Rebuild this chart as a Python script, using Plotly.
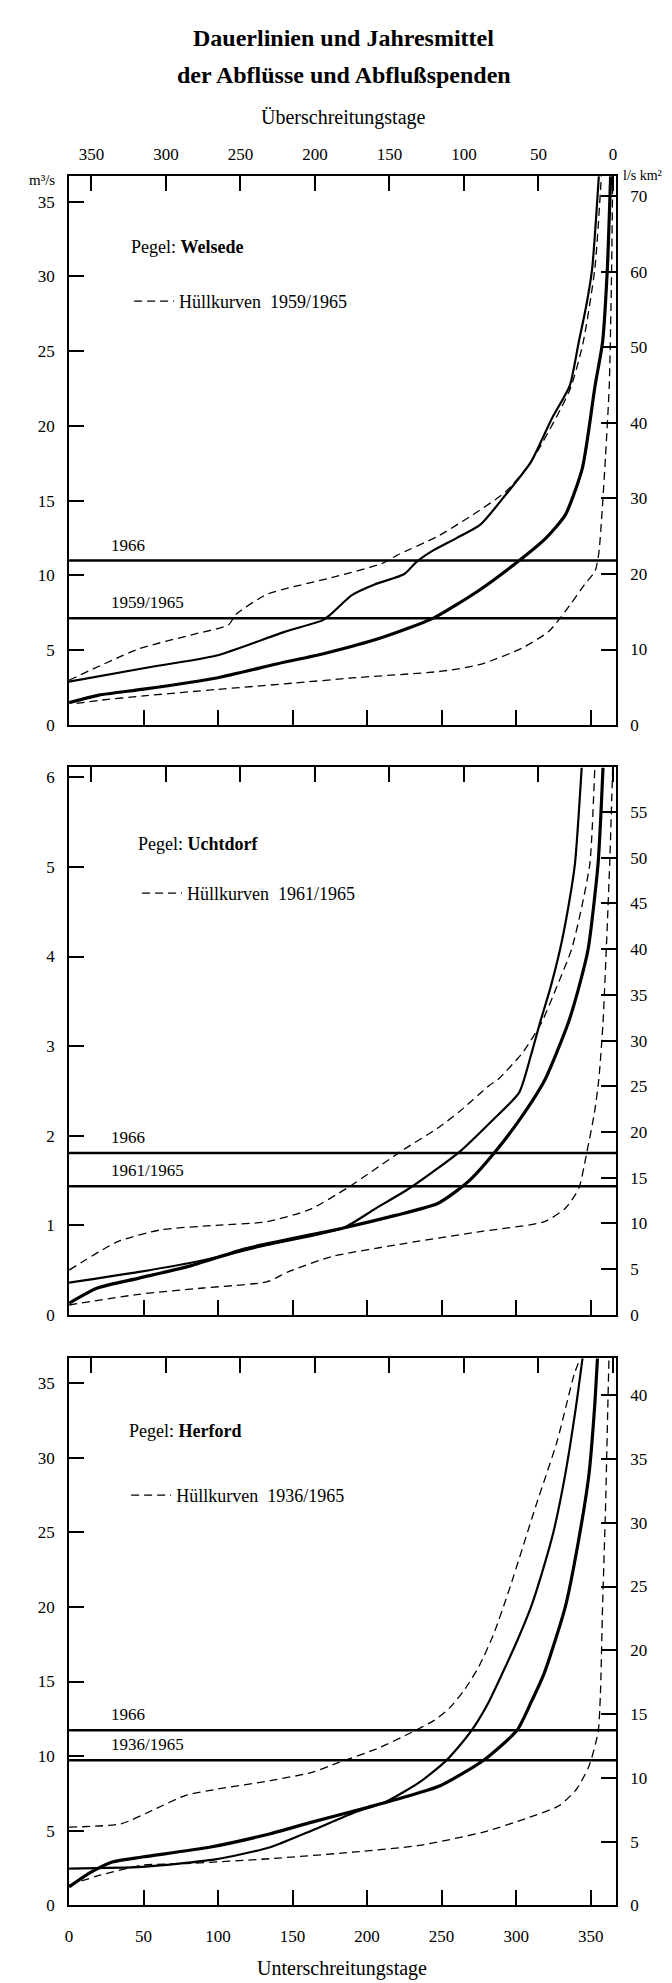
import plotly.graph_objects as go

W, H = 672, 1983
FONT = "Liberation Serif"

# ---------------- data (x = Unterschreitungstage) ----------------
# Pegel Welsede
wel_1966_days = [0, 50, 99, 145, 170, 175, 190, 205, 225, 233, 243, 260, 276, 293, 310, 324, 336, 342, 347, 351, 355.5]
wel_1966_q = [2.9, 3.8, 4.65, 6.25, 7.0, 7.35, 8.7, 9.4, 10.1, 10.9, 11.6, 12.5, 13.4, 15.4, 17.6, 20.5, 22.7, 25.6, 28.0, 30.5, 36.7]
wel_mean_days = [0, 20, 50, 99, 140, 172, 210, 244.5, 275, 300.8, 320, 333, 344.5, 353, 358, 361.2, 363.4]
wel_mean_q = [1.5, 2.0, 2.4, 3.15, 4.1, 4.8, 5.85, 7.15, 9.0, 10.9, 12.5, 14.05, 17.2, 22.7, 25.6, 30.5, 36.7]
wel_hi_days = [0, 47, 85, 107, 112, 133, 176, 210, 220, 247, 270, 293, 310, 336, 345, 352.8, 357.2]
wel_hi_q = [3.0, 5.1, 6.1, 6.7, 7.4, 8.75, 9.85, 10.8, 11.35, 12.6, 14.0, 15.6, 17.6, 22.4, 25.6, 30.5, 36.7]
wel_lo_days = [5, 20, 50, 99, 150, 190, 250, 276, 304, 322, 333, 346, 353, 355.5, 357.5, 360, 362.5, 364, 364.8]
wel_lo_q = [1.45, 1.65, 1.95, 2.38, 2.8, 3.15, 3.6, 4.05, 5.15, 6.27, 7.6, 9.4, 10.3, 11.5, 14.0, 18.0, 22.7, 30.0, 36.7]
wel_means = [11.0, 7.15]
wel_mean_labels = ["1966", "1959/1965"]

# Pegel Uchtdorf
uch_1966_days = [0, 47, 90, 133, 184, 205, 230, 262, 284, 302, 310, 316, 323, 329.5, 335, 339.5, 344]
uch_1966_q = [0.36, 0.48, 0.61, 0.78, 0.97, 1.18, 1.43, 1.82, 2.17, 2.48, 2.9, 3.26, 3.65, 4.08, 4.55, 5.04, 6.11]
uch_mean_days = [0, 19, 47, 82, 119, 184, 219, 247, 259, 270, 285, 302, 319.5, 335, 342, 348.3, 355, 358.3]
uch_mean_q = [0.13, 0.3, 0.41, 0.55, 0.74, 0.97, 1.11, 1.24, 1.37, 1.52, 1.8, 2.17, 2.63, 3.26, 3.65, 4.08, 5.04, 6.11]
uch_hi_days = [0, 33, 62, 99, 133, 162, 187, 225, 247, 262, 282, 288, 304.5, 317, 327, 337.2, 344, 349.5, 352.8]
uch_hi_q = [0.5, 0.82, 0.95, 1.0, 1.04, 1.18, 1.42, 1.85, 2.08, 2.27, 2.56, 2.63, 2.93, 3.26, 3.65, 4.08, 4.55, 5.04, 6.11]
uch_lo_days = [0, 47, 90, 133, 147, 176, 219, 276, 319, 333, 342, 347.5, 352.5, 355.5, 358.3, 360.5, 362.8, 364.8]
uch_lo_q = [0.11, 0.23, 0.30, 0.37, 0.48, 0.65, 0.78, 0.93, 1.04, 1.19, 1.41, 1.82, 2.25, 2.63, 3.26, 4.08, 5.04, 6.11]
uch_means = [1.806, 1.435]
uch_mean_labels = ["1966", "1961/1965"]

# Pegel Herford
her_1966_days = [0, 49, 98, 135, 163, 192, 212, 235, 252, 262, 272, 282, 291, 301, 310, 318, 325, 333, 340, 344.6]
her_1966_q = [2.47, 2.58, 3.08, 3.9, 5.02, 6.24, 6.91, 8.24, 9.6, 10.7, 12.0, 13.7, 15.6, 17.8, 20.0, 22.5, 25.0, 28.9, 33.3, 36.7]
her_mean_days = [0, 15, 29, 49, 95, 135, 163, 200.6, 220.6, 249, 277.7, 300.6, 310, 319, 333, 341.8, 348.9, 352.6, 354.6]
her_mean_q = [1.24, 2.24, 2.91, 3.24, 3.91, 4.8, 5.58, 6.58, 7.13, 8.02, 9.69, 11.73, 13.6, 15.6, 20.0, 24.4, 28.9, 33.3, 36.7]
her_hi_days = [0, 35, 58, 78, 100, 135, 163, 181, 206, 230, 245, 255, 265, 275, 285, 296, 313, 327.5, 339, 343.2]
her_hi_q = [5.24, 5.47, 6.47, 7.36, 7.8, 8.36, 8.91, 9.58, 10.47, 11.6, 12.4, 13.2, 14.4, 16.0, 18.2, 21.35, 26.7, 31.1, 35.6, 36.7]
her_lo_days = [0, 20.6, 49, 78, 135, 192, 235, 278, 306, 329, 340.6, 349, 355, 356.5, 358, 360, 361.5, 362.3]
her_lo_q = [1.36, 2.02, 2.69, 2.8, 3.13, 3.58, 4.02, 4.91, 5.8, 6.69, 7.8, 9.36, 11.6, 14.0, 20.0, 26.7, 33.3, 36.7]
her_means = [11.73, 9.73]
her_mean_labels = ["1966", "1936/1965"]

# axis ticks
day_ticks = [0, 50, 100, 150, 200, 250, 300, 350]
wel_left_ticks = [0, 5, 10, 15, 20, 25, 30, 35]
wel_right_ticks = [0, 10, 20, 30, 40, 50, 60, 70]
uch_left_ticks = [0, 1, 2, 3, 4, 5, 6]
uch_right_ticks = [0, 5, 10, 15, 20, 25, 30, 35, 40, 45, 50, 55]
her_left_ticks = [0, 5, 10, 15, 20, 25, 30, 35]
her_right_ticks = [0, 5, 10, 15, 20, 25, 30, 35, 40]

panels = [
    dict(station="Welsede", period="1959/1965",
         d66=wel_1966_days, q66=wel_1966_q, dm=wel_mean_days, qm=wel_mean_q,
         dh=wel_hi_days, qh=wel_hi_q, dl=wel_lo_days, ql=wel_lo_q,
         means=wel_means, mlabels=wel_mean_labels,
         ymax=36.7, lt=wel_left_ticks, rt=wel_right_ticks, rf=1.98,
         top=169, bot=720.7, peg=(118, 240), leg=(118, 295),
         top_labels=True, bottom_labels=False),
    dict(station="Uchtdorf", period="1961/1965",
         d66=uch_1966_days, q66=uch_1966_q, dm=uch_mean_days, qm=uch_mean_q,
         dh=uch_hi_days, qh=uch_hi_q, dl=uch_lo_days, ql=uch_lo_q,
         means=uch_means, mlabels=uch_mean_labels,
         ymax=6.11, lt=uch_left_ticks, rt=uch_right_ticks, rf=9.8,
         top=763.3, bot=1313.5, peg=(125, 840), leg=(126, 890),
         top_labels=False, bottom_labels=False),
    dict(station="Herford", period="1936/1965",
         d66=her_1966_days, q66=her_1966_q, dm=her_mean_days, qm=her_mean_q,
         dh=her_hi_days, qh=her_hi_q, dl=her_lo_days, ql=her_lo_q,
         means=her_means, mlabels=her_mean_labels,
         ymax=36.65, lt=her_left_ticks, rt=her_right_ticks, rf=1.17,
         top=1357.3, bot=1907, peg=(116, 1430), leg=(115, 1495),
         top_labels=False, bottom_labels=True),
]

XL, XR = 57.5, 608.5
XRANGE = [0, 367]
xdom = [XL / W, XR / W]

fig = go.Figure()
layout = dict(width=W, height=H, autosize=False,
              margin=dict(l=0, r=0, t=0, b=0),
              paper_bgcolor="white", plot_bgcolor="white",
              font=dict(family=FONT, color="black", size=17),
              shapes=[], annotations=[])

tickfont = dict(family=FONT, size=17, color="black")
axline = dict(showline=True, linecolor="black", linewidth=2, showgrid=False,
              zeroline=False, ticks="inside", ticklen=15, tickwidth=1.5,
              tickcolor="black", tickfont=tickfont)

for i, p in enumerate(panels):
    n = 2 * i + 1
    xa = "x" if n == 1 else f"x{n}"
    ya = "y" if n == 1 else f"y{n}"
    xt = f"x{n+1}"
    yr = f"y{n+1}"
    ydom = [1 - p["bot"] / H, 1 - p["top"] / H]
    xkey = "xaxis" if n == 1 else f"xaxis{n}"
    ykey = "yaxis" if n == 1 else f"yaxis{n}"

    layout[xkey] = dict(axline, domain=xdom, range=XRANGE, anchor=ya, side="bottom",
                        tickvals=day_ticks, showticklabels=p["bottom_labels"],
                        ticklabelstandoff=14)
    layout[f"xaxis{n+1}"] = dict(axline, domain=xdom, overlaying=xa, anchor=ya, side="top",
                                 range=[365 - XRANGE[0], 365 - XRANGE[1]],
                                 tickvals=day_ticks, showticklabels=p["top_labels"],
                                 ticklabelstandoff=7)
    layout[ykey] = dict(axline, domain=ydom, range=[0, p["ymax"]], anchor=xa,
                        side="left", tickvals=p["lt"], ticklabelstandoff=9)
    layout[f"yaxis{n+1}"] = dict(axline, domain=ydom, overlaying=ya, anchor=xa, side="right",
                                 range=[0, p["ymax"] * p["rf"]], tickvals=p["rt"],
                                 ticklabelstandoff=9)

    # empty traces so the overlaid (top / right) axes are drawn
    fig.add_trace(go.Scatter(x=[], y=[], xaxis=xt, yaxis=ya, showlegend=False, hoverinfo="skip"))
    fig.add_trace(go.Scatter(x=[], y=[], xaxis=xa, yaxis=yr, showlegend=False, hoverinfo="skip"))

    legname = "legend" if i == 0 else f"legend{i+1}"
    dash = dict(color="black", width=1.3, dash="8px,5px", shape="spline", smoothing=0.6)
    fig.add_trace(go.Scatter(x=p["dh"], y=p["qh"], xaxis=xa, yaxis=ya, mode="lines",
                             line=dash, name="Hüllkurven  " + p["period"],
                             legend=legname, showlegend=True))
    fig.add_trace(go.Scatter(x=p["dl"], y=p["ql"], xaxis=xa, yaxis=ya, mode="lines",
                             line=dash, name="Hüllkurve unten " + p["period"],
                             showlegend=False))
    fig.add_trace(go.Scatter(x=p["d66"], y=p["q66"], xaxis=xa, yaxis=ya, mode="lines",
                             line=dict(color="black", width=2.2, shape="spline", smoothing=0.6),
                             name="Dauerlinie 1966", showlegend=False))
    fig.add_trace(go.Scatter(x=p["dm"], y=p["qm"], xaxis=xa, yaxis=ya, mode="lines",
                             line=dict(color="black", width=3.2, shape="spline", smoothing=0.6),
                             name="Dauerlinie " + p["period"], showlegend=False))

    layout[legname] = dict(x=p["leg"][0] / W, y=1 - p["leg"][1] / H,
                           xanchor="left", yanchor="middle",
                           bgcolor="rgba(0,0,0,0)", borderwidth=0,
                           font=dict(family=FONT, size=18, color="black"),
                           itemwidth=40)

    # mean lines
    for val, lab in zip(p["means"], p["mlabels"]):
        layout["shapes"].append(dict(type="line", xref=f"{xa} domain", yref=ya,
                                     x0=0, x1=1, y0=val, y1=val,
                                     line=dict(color="black", width=2.5)))
        layout["annotations"].append(dict(text=lab, xref="paper", yref=ya,
                                          x=98 / W, y=val, xanchor="left",
                                          yanchor="bottom", yshift=4, showarrow=False,
                                          font=dict(family=FONT, size=17, color="black")))
    # station label
    layout["annotations"].append(dict(text="Pegel: <b>" + p["station"] + "</b>",
                                      xref="paper", yref="paper",
                                      x=p["peg"][0] / W, y=1 - p["peg"][1] / H,
                                      xanchor="left", yanchor="middle", showarrow=False,
                                      font=dict(family=FONT, size=18, color="black")))

# titles and axis captions
def ann(text, xpx, ypx, size, anchor="center"):
    layout["annotations"].append(dict(text=text, xref="paper", yref="paper",
                                      x=xpx / W, y=1 - ypx / H, xanchor=anchor,
                                      yanchor="middle", showarrow=False,
                                      font=dict(family=FONT, size=size, color="black")))

ann("<b>Dauerlinien und Jahresmittel</b>", 334, 30, 24)
ann("<b>der Abflüsse und Abflußspenden</b>", 334, 67, 24)
ann("Überschreitungstage", 334, 110, 20)
ann("m³/s", 30, 173, 15)
ann("l/s km²", 614, 168, 14, "left")
ann("Unterschreitungstage", 332, 1970, 20)

fig.update_layout(**layout)
fig.write_html("out.html")
